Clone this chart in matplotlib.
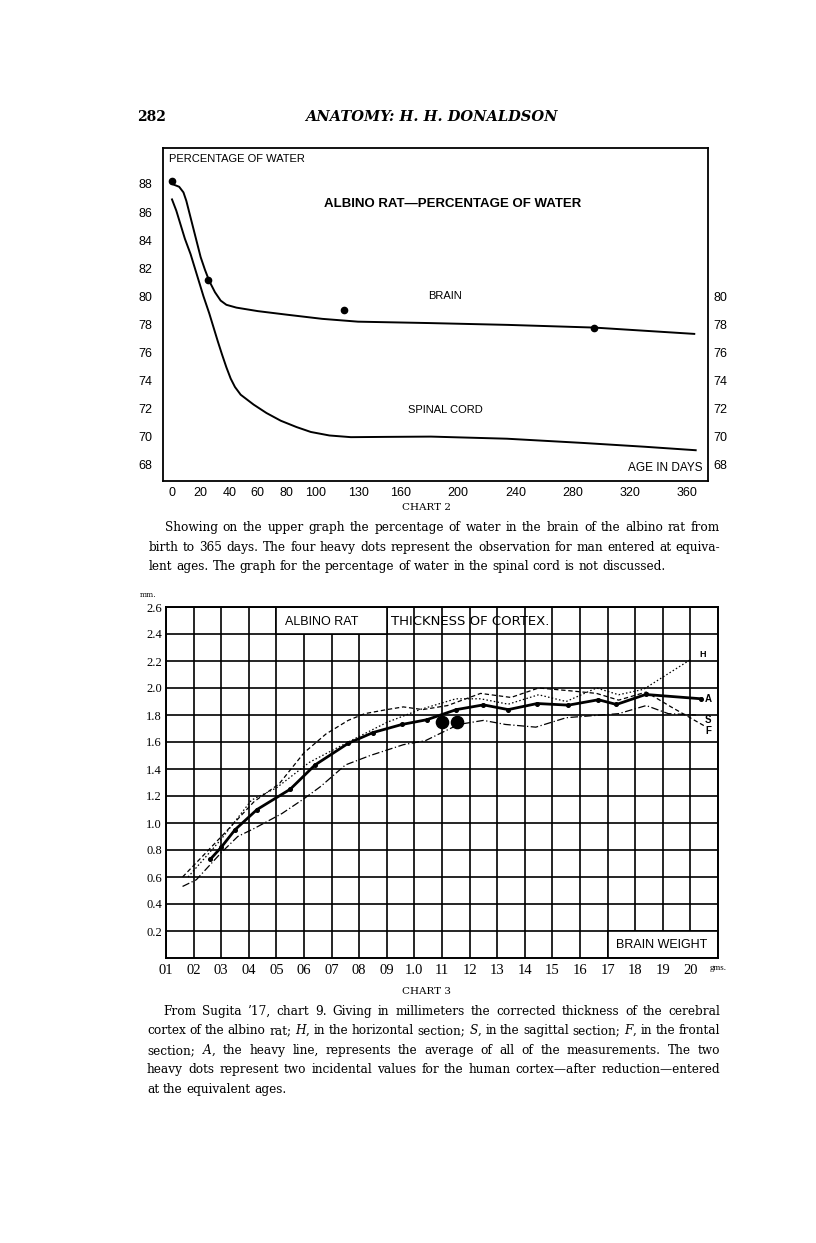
import matplotlib
matplotlib.use('Agg')
import matplotlib.pyplot as plt
from matplotlib.patches import Rectangle

# ---------------- data: chart 2 (percentage of water) ----------------
brain_days = [0, 5, 8, 10, 12, 14, 17, 20, 23, 26, 30, 34, 38, 45, 60, 80, 105, 130, 180, 235, 295, 365]
brain_pct = [88.0, 87.8, 87.4, 86.8, 86.0, 85.2, 84.0, 82.8, 81.9, 81.1, 80.3, 79.7, 79.4, 79.2,
             78.95, 78.7, 78.4, 78.2, 78.1, 77.97, 77.78, 77.33]
cord_days = [0, 3, 6, 9, 13, 16, 19, 22, 26, 29, 32, 35, 38, 41, 44, 48, 57, 66, 76, 87, 97, 110, 125,
             150, 181, 234, 287, 330, 366]
cord_pct = [86.9, 86.1, 85.1, 84.1, 83.0, 82.0, 81.0, 80.0, 78.8, 77.8, 76.8, 75.85, 74.95, 74.15,
            73.55, 73.0, 72.3, 71.7, 71.15, 70.7, 70.35, 70.1, 69.98, 70.0, 70.02, 69.87, 69.57, 69.3, 69.05]
man_days = [0, 25, 120, 295]
man_pct = [88.2, 81.15, 79.05, 77.78]
c2_xticks = [0, 20, 40, 60, 80, 100, 130, 160, 200, 240, 280, 320, 360]
c2_yticks = [88, 86, 84, 82, 80, 78, 76, 74, 72, 70, 68]
c2_yticks_right = [80, 78, 76, 74, 72, 70, 68]

# ---------------- data: chart 3 (thickness of cortex) ----------------
A_g = [0.26, 0.30, 0.35, 0.43, 0.55, 0.64, 0.76, 0.85, 0.955, 1.045, 1.152, 1.25, 1.34, 1.445, 1.558, 1.667, 1.732, 1.838, 2.04]
A_mm = [0.73, 0.82, 0.95, 1.10, 1.25, 1.43, 1.59, 1.67, 1.73, 1.765, 1.84, 1.875, 1.84, 1.885, 1.873, 1.913, 1.878, 1.952, 1.92]
H_g = [0.18, 0.30, 0.41, 0.50, 0.62, 0.77, 0.90, 1.02, 1.15, 1.24, 1.34, 1.45, 1.55, 1.66, 1.74, 1.83, 2.00]
H_mm = [0.60, 0.88, 1.17, 1.26, 1.45, 1.61, 1.745, 1.84, 1.92, 1.92, 1.88, 1.95, 1.90, 2.00, 1.95, 1.99, 2.21]
F_g = [0.16, 0.24, 0.31, 0.42, 0.51, 0.60, 0.68, 0.76, 0.82, 0.90, 0.96, 1.03, 1.12, 1.24, 1.35, 1.45,
       1.56, 1.66, 1.74, 1.84, 1.93, 2.05]
F_mm = [0.60, 0.77, 0.92, 1.16, 1.29, 1.52, 1.66, 1.76, 1.81, 1.84, 1.86, 1.84, 1.87, 1.96, 1.93, 2.00,
        1.98, 1.96, 1.91, 1.97, 1.86, 1.72]
S_g = [0.16, 0.21, 0.30, 0.36, 0.42, 0.52, 0.60, 0.66, 0.75, 0.84, 0.96, 1.04, 1.13, 1.16, 1.25, 1.33,
       1.44, 1.55, 1.74, 1.84, 1.92, 2.02]
S_mm = [0.53, 0.58, 0.78, 0.90, 0.96, 1.07, 1.18, 1.27, 1.43, 1.50, 1.58, 1.61, 1.70, 1.73, 1.76, 1.73,
        1.71, 1.78, 1.81, 1.87, 1.81, 1.80]
human_g = [1.10, 1.153]
human_mm = [1.75, 1.75]
c3_xticks = [0.1, 0.2, 0.3, 0.4, 0.5, 0.6, 0.7, 0.8, 0.9, 1.0, 1.1, 1.2, 1.3, 1.4, 1.5, 1.6, 1.7, 1.8, 1.9, 2.0, 2.1]
c3_xlabels = ['01', '02', '03', '04', '05', '06', '07', '08', '09', '1.0', '11', '12', '13', '14', '15',
              '16', '17', '18', '19', '20', 'gms.']
c3_yticks = [2.6, 2.4, 2.2, 2.0, 1.8, 1.6, 1.4, 1.2, 1.0, 0.8, 0.6, 0.4, 0.2]
c3_ylabels = ['2.6', '2.4', '2.2', '2.0', '1.8', '1.6', '1.4', '1.2', '1.0', '0.8', '0.6', '0.4', '0.2']

# ---------------- page text ----------------
para1 = ["Showing on the upper graph the percentage of water in the brain of the albino rat from",
         "birth to 365 days.  The four heavy dots represent the observation for man entered at equiva-",
         "lent ages.  The graph for the percentage of water in the spinal cord is not discussed."]
para2 = ["From Sugita \u201917, chart 9. Giving in millimeters the corrected thickness of the cerebral",
         "cortex of the albino rat; $H$, in the horizontal section; $S$, in the sagittal section; $F$, in the frontal",
         "section; $A$, the heavy line, represents the average of all of the measurements.  The two",
         "heavy dots represent two incidental values for the human cortex\u2014after reduction\u2014entered",
         "at the equivalent ages."]

W, H = 816, 1243
fig = plt.figure(figsize=(W / 100, H / 100), dpi=100)
fig.patch.set_facecolor('white')
plt.rcParams['mathtext.fontset'] = 'dejavuserif'


def fx(px):
    return px / W


def fy(py):
    return 1 - py / H


SANS = 'Liberation Sans'
SERIF = 'DejaVu Serif'

# ================= chart 2 =================
ax1 = fig.add_axes([fx(163), fy(481), fx(708) - fx(163), fy(148) - fy(481)])
ax1.set_xlim(-6.3, 374.6)
ax1.set_ylim(66.86, 90.56)
ax1.plot(brain_days, brain_pct, color='black', lw=1.4)
ax1.plot(cord_days, cord_pct, color='black', lw=1.4)
ax1.plot(man_days, man_pct, 'o', color='black', ms=4.5)
for s in ax1.spines.values():
    s.set_linewidth(1.3)
ax1.set_xticks(c2_xticks)
ax1.set_xticklabels([str(v) for v in c2_xticks], fontfamily=SANS, fontsize=9)
ax1.set_yticks(c2_yticks)
ax1.set_yticklabels([str(v) for v in c2_yticks], fontfamily=SANS, fontsize=9)
ax1.tick_params(axis='y', length=0, pad=8)
ax1.tick_params(axis='x', length=0, pad=4)
axr = ax1.twinx()
axr.set_ylim(ax1.get_ylim())
axr.set_yticks(c2_yticks_right)
axr.set_yticklabels([str(v) for v in c2_yticks_right], fontfamily=SANS, fontsize=9)
axr.tick_params(axis='y', length=0, pad=4)
for s in axr.spines.values():
    s.set_visible(False)

ax1.text(-2, 89.75, 'PERCENTAGE OF WATER', fontfamily=SANS, fontsize=8, va='center', ha='left')
ax1.text(196, 86.58, 'ALBINO RAT\u2014PERCENTAGE OF WATER', fontfamily=SANS, fontsize=9.5,
         fontweight='bold', va='center', ha='center')
ax1.text(191, 80.0, 'BRAIN', fontfamily=SANS, fontsize=8, va='center', ha='center')
ax1.text(191, 71.9, 'SPINAL CORD', fontfamily=SANS, fontsize=8, va='center', ha='center')
ax1.text(371, 67.8, 'AGE IN DAYS', fontfamily=SANS, fontsize=8.5, va='center', ha='right')

# ================= chart 3 =================
ax2 = fig.add_axes([fx(166), fy(958), fx(718) - fx(166), fy(607) - fy(958)])
ax2.set_xlim(0.1, 2.1)
ax2.set_ylim(0, 2.6)
ax2.set_axisbelow(True)
ax2.set_xticks(c3_xticks)
ax2.set_yticks(c3_yticks)
ax2.grid(True, color='black', lw=1.2)
ax2.set_xticklabels(c3_xlabels, fontfamily='Liberation Serif', fontsize=10.5)
ax2.get_xticklabels()[-1].set_fontsize(6.5)
ax2.set_yticklabels(c3_ylabels, fontfamily='Liberation Serif', fontsize=9)
ax2.tick_params(length=0)
ax2.tick_params(axis='x', pad=4)
ax2.tick_params(axis='y', pad=3)
for s in ax2.spines.values():
    s.set_linewidth(1.4)

ax2.add_patch(Rectangle((0.5, 2.4), 0.4, 0.2, facecolor='white', edgecolor='black', lw=1.2, zorder=1))
ax2.add_patch(Rectangle((1.7, 0.0), 0.4, 0.2, facecolor='white', edgecolor='black', lw=1.2, zorder=1))
ax2.text(0.663, 2.49, 'ALBINO RAT', fontfamily=SANS, fontsize=9, ha='center', va='center', zorder=3)
ax2.text(0.915, 2.49, 'THICKNESS OF CORTEX.', fontfamily='DejaVu Sans', fontsize=9.5,
         ha='left', va='center', zorder=3)
ax2.text(1.897, 0.095, 'BRAIN WEIGHT', fontfamily=SANS, fontsize=9, ha='center', va='center', zorder=3)

ax2.plot(H_g, H_mm, color='black', lw=0.9, ls=(0, (1.2, 1.8)), zorder=2)
ax2.plot(F_g, F_mm, color='black', lw=0.9, ls=(0, (3.5, 2.2)), zorder=2)
ax2.plot(S_g, S_mm, color='black', lw=0.9, ls=(0, (6, 2, 1, 2)), zorder=2)
ax2.plot(A_g, A_mm, color='black', lw=2.0, marker='o', ms=2.6, zorder=3)
ax2.plot(human_g, human_mm, 'o', color='black', ms=8.8, zorder=4)

ax2.text(2.045, 2.245, 'H', fontfamily=SANS, fontsize=6.5, fontweight='bold', ha='center', va='center')
ax2.text(2.063, 1.92, 'A', fontfamily=SANS, fontsize=7, fontweight='bold', ha='center', va='center')
ax2.text(2.065, 1.765, 'S', fontfamily=SANS, fontsize=7, fontweight='bold', ha='center', va='center')
ax2.text(2.065, 1.68, 'F', fontfamily=SANS, fontsize=7, fontweight='bold', ha='center', va='center')
fig.text(fx(148), fy(595), 'mm.', fontfamily=SERIF, fontsize=5.5, ha='center', va='center')

# ================= page text =================
fig.text(fx(137), fy(117), '282', fontfamily=SERIF, fontsize=10, fontweight='bold', ha='left', va='center')
fig.text(fx(431), fy(117), 'ANATOMY: H. H. DONALDSON', fontfamily=SERIF, fontsize=10.5,
         fontweight='bold', fontstyle='italic', ha='center', va='center')
fig.text(fx(426), fy(508), 'CHART 2', fontfamily=SERIF, fontsize=7.5, ha='center', va='center')
fig.text(fx(426), fy(991), 'CHART 3', fontfamily=SERIF, fontsize=7.5, ha='center', va='center')

renderer = fig.canvas.get_renderer()
BODY = 8.7


def justify(line, y_px, x0, x1, last=False):
    words = line.split()
    widths = []
    for w in words:
        t = fig.text(0, 0, w, fontfamily=SERIF, fontsize=BODY)
        widths.append(t.get_window_extent(renderer).width)
        t.remove()
    sp = fig.text(0, 0, 'a a', fontfamily=SERIF, fontsize=BODY)
    sa = fig.text(0, 0, 'aa', fontfamily=SERIF, fontsize=BODY)
    space = sp.get_window_extent(renderer).width - sa.get_window_extent(renderer).width
    sp.remove()
    sa.remove()
    if last or len(words) == 1:
        gap = space * 1.0
    else:
        gap = (x1 - x0 - sum(widths)) / (len(words) - 1)
    x = x0
    for w, wd in zip(words, widths):
        fig.text(fx(x), fy(y_px), w, fontfamily=SERIF, fontsize=BODY, ha='left', va='baseline')
        x += wd + gap


p1_y = [531, 551, 570]
p1_x0 = [165, 149, 149]
for i, line in enumerate(para1):
    justify(line, p1_y[i], p1_x0[i], 720, last=(i == len(para1) - 1))

p2_y = [1015, 1034, 1054, 1073, 1093]
p2_x0 = [163, 147, 147, 147, 147]
for i, line in enumerate(para2):
    justify(line, p2_y[i], p2_x0[i], 720, last=(i == len(para2) - 1))

fig.savefig('out.png', dpi=100, facecolor='white')
